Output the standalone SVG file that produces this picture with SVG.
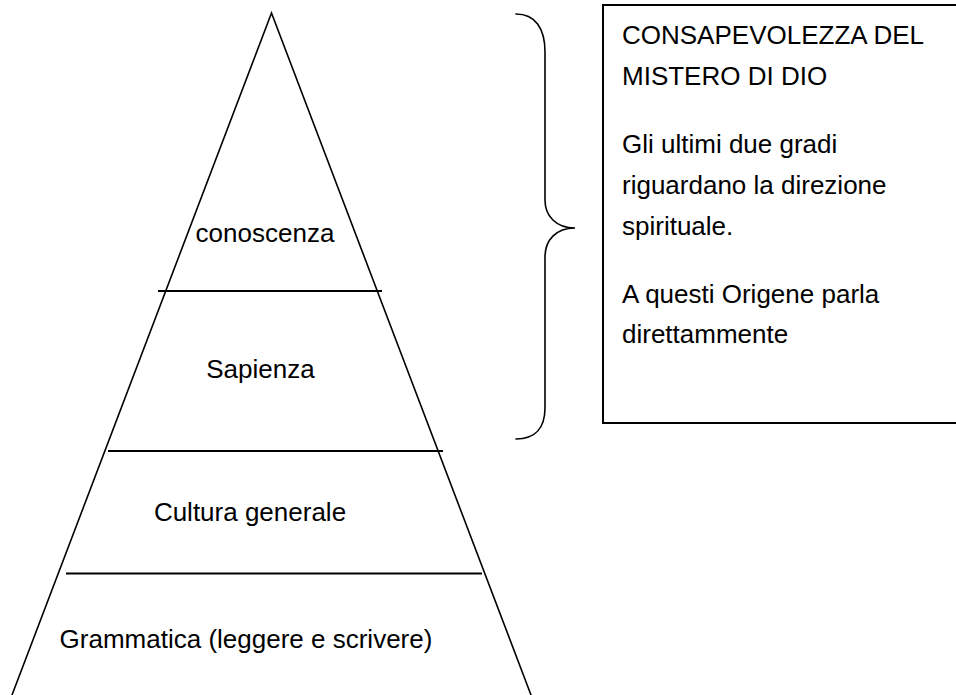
<svg xmlns="http://www.w3.org/2000/svg" width="956" height="695" viewBox="0 0 956 695">
<style>
  .edge { fill: none; stroke: #000; stroke-width: 1.6; stroke-linecap: round; stroke-linejoin: miter; }
  .level { fill: none; stroke: #000; stroke-width: 2; }
  .lbl { font-family: "Liberation Sans", Arial, sans-serif; font-size: 26px; fill: #000; }
  .mid { text-anchor: middle; }
  .note { fill: #fff; stroke: #000; stroke-width: 2; }
</style>
<rect width="956" height="695" fill="#fff"/>
<g id="pyramid">
  <path class="edge" d="M12,695 L271.5,13 L531,695"/>
</g>
<g id="connectors">
  <line class="level" x1="158" y1="291" x2="382" y2="291"/>
  <line class="level" x1="108" y1="451" x2="443" y2="451"/>
  <line class="level" x1="66" y1="573.5" x2="482" y2="573.5"/>
  <path class="edge" d="M516,14 C535,14 545,28 545,52 L545,200 C545,216 556,228 575,228 C556,228 545,240 545,257 L545,408 C545,428 535,439 516,439"/>
</g>
<g id="conoscenza">
  <text class="lbl mid" x="265" y="242">conoscenza</text>
</g>
<g id="sapienza">
  <text class="lbl mid" x="260.5" y="378">Sapienza</text>
</g>
<g id="cultura">
  <text class="lbl mid" x="250" y="521">Cultura generale</text>
</g>
<g id="grammatica">
  <text class="lbl mid" x="246" y="648">Grammatica (leggere e scrivere)</text>
</g>
<g id="note">
  <rect class="note" x="603" y="5" width="370" height="418"/>
  <text class="lbl" x="622" y="44">CONSAPEVOLEZZA DEL</text>
  <text class="lbl" x="622" y="85">MISTERO DI DIO</text>
  <text class="lbl" x="622" y="153">Gli ultimi due gradi</text>
  <text class="lbl" x="622" y="194">riguardano la direzione</text>
  <text class="lbl" x="622" y="235">spirituale.</text>
  <text class="lbl" x="622" y="303">A questi Origene parla</text>
  <text class="lbl" x="622" y="343">direttammente</text>
</g>
</svg>
